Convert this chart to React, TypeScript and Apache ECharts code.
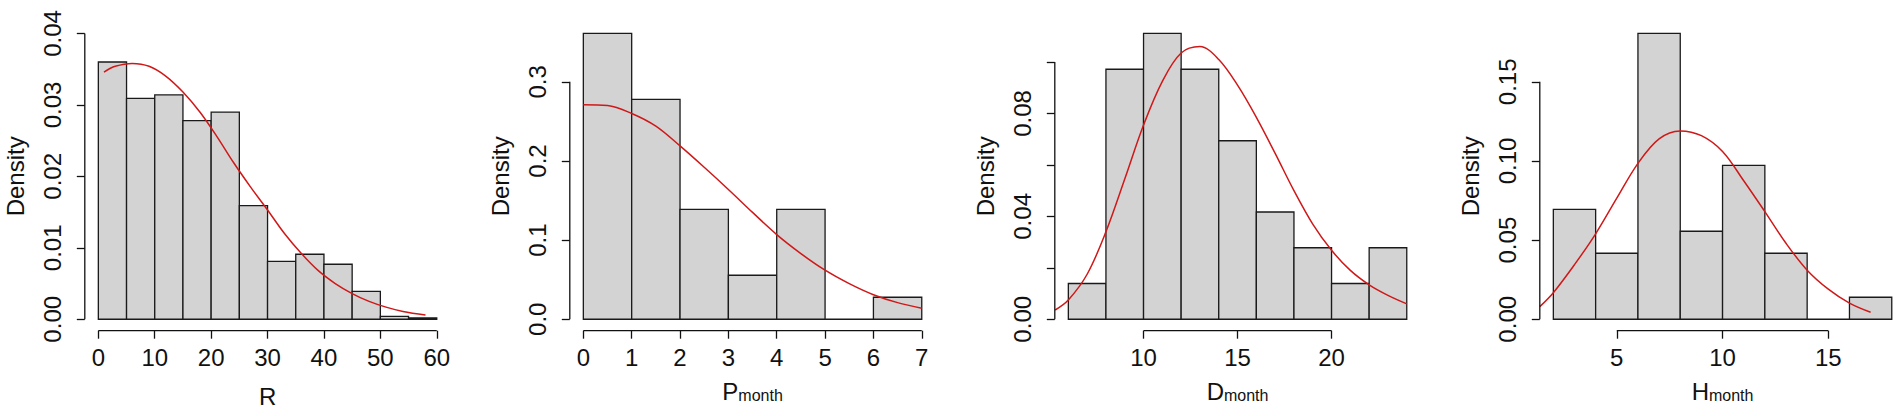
import React, { useEffect, useRef } from "react";
import * as echarts from "echarts";

// ---------- Data ----------
// Panel 1: R
const R_BREAKS = [0, 5, 10, 15, 20, 25, 30, 35, 40, 45, 50, 55, 60];
const R_DENSITY = [0.036, 0.0309, 0.0314, 0.0278, 0.029, 0.0159, 0.0081, 0.0091, 0.0077, 0.0039, 0.0004, 0.0002];
const R_CURVE_X = [1, 3, 6, 9, 12, 15, 18, 21, 24, 27, 30, 33, 36, 39, 42, 45, 48, 51, 54, 58];
const R_CURVE_Y = [0.0346, 0.0354, 0.0358, 0.0354, 0.034, 0.0318, 0.029, 0.0256, 0.0219, 0.0185, 0.0153, 0.012, 0.0092, 0.0068, 0.005, 0.0036, 0.0025, 0.0017, 0.0011, 0.0006];
const R_X_TICKS = [0, 10, 20, 30, 40, 50, 60];
const R_Y_TICKS = [0, 0.01, 0.02, 0.03, 0.04];
const R_Y_LABELS = [0, 0.01, 0.02, 0.03, 0.04];

// Panel 2: P_month
const P_BREAKS = [0, 1, 2, 3, 4, 5, 6, 7];
const P_DENSITY = [0.3611, 0.2778, 0.1389, 0.0556, 0.1389, 0, 0.0278];
const P_CURVE_X = [0, 0.5, 1, 1.5, 2, 2.5, 3, 3.5, 4, 4.5, 5, 5.5, 6, 6.5, 7];
const P_CURVE_Y = [0.271, 0.27, 0.26, 0.244, 0.219, 0.192, 0.164, 0.135, 0.107, 0.083, 0.062, 0.045, 0.031, 0.021, 0.014];
const P_X_TICKS = [0, 1, 2, 3, 4, 5, 6, 7];
const P_Y_TICKS = [0, 0.1, 0.2, 0.3];
const P_Y_LABELS = [0, 0.1, 0.2, 0.3];

// Panel 3: D_month
const D_BREAKS = [6, 8, 10, 12, 14, 16, 18, 20, 22, 24];
const D_DENSITY = [0.0139, 0.0972, 0.1111, 0.0972, 0.0694, 0.0417, 0.0278, 0.0139, 0.0278];
const D_CURVE_X = [5.3, 6, 7, 8, 9, 10, 11, 12, 13, 14, 15, 16, 17, 18, 19, 20, 21, 22, 23, 24];
const D_CURVE_Y = [0.0036, 0.0075, 0.0175, 0.034, 0.0545, 0.0755, 0.0925, 0.1035, 0.106, 0.101, 0.091, 0.0785, 0.0645, 0.05, 0.037, 0.0268, 0.019, 0.0134, 0.0093, 0.006];
const D_X_TICKS = [10, 15, 20];
const D_Y_TICKS = [0, 0.02, 0.04, 0.06, 0.08, 0.1];
const D_Y_LABELS = [0, 0.04, 0.08];

// Panel 4: H_month
const H_BREAKS = [2, 4, 6, 8, 10, 12, 14, 16, 18];
const H_DENSITY = [0.0694, 0.0417, 0.1806, 0.0556, 0.0972, 0.0417, 0, 0.0139];
const H_CURVE_X = [1.36, 2, 3, 4, 5, 6, 7, 8, 9, 10, 11, 12, 13, 14, 15, 16, 17];
const H_CURVE_Y = [0.008, 0.0168, 0.0345, 0.054, 0.0765, 0.0985, 0.114, 0.119, 0.116, 0.106, 0.0875, 0.068, 0.048, 0.031, 0.019, 0.0102, 0.0044];
const H_X_TICKS = [5, 10, 15];
const H_Y_TICKS = [0, 0.05, 0.1, 0.15];
const H_Y_LABELS = [0, 0.05, 0.1, 0.15];

// ---------- Layout / style ----------
const FONT = "'Liberation Sans', Arial, Helvetica, sans-serif";
const INK = "#111111";
const BAR_FILL = "#d3d3d3";
const CURVE_COLOR = "#d01818";
const GRID_TOP = 22;
const GRID_HEIGHT = 308.7;
const GRID_WIDTH = 365.5;
const GRID_LEFTS = [84.8, 569.8, 1054.8, 1539.8];

type Panel = {
  breaks: number[];
  density: number[];
  cx: number[];
  cy: number[];
  xRange: [number, number];
  yRange: [number, number];
  xTicks: number[];
  yTicks: number[];
  yLabels: number[];
  yDigits: number;
  main: string;
  sub: string;
};

const PANELS: Panel[] = [
  { breaks: R_BREAKS, density: R_DENSITY, cx: R_CURVE_X, cy: R_CURVE_Y, xRange: [-2.4, 62.4], yRange: [-0.0016, 0.0416], xTicks: R_X_TICKS, yTicks: R_Y_TICKS, yLabels: R_Y_LABELS, yDigits: 2, main: "R", sub: "" },
  { breaks: P_BREAKS, density: P_DENSITY, cx: P_CURVE_X, cy: P_CURVE_Y, xRange: [-0.28, 7.28], yRange: [-0.01444, 0.37555], xTicks: P_X_TICKS, yTicks: P_Y_TICKS, yLabels: P_Y_LABELS, yDigits: 1, main: "P", sub: "month" },
  { breaks: D_BREAKS, density: D_DENSITY, cx: D_CURVE_X, cy: D_CURVE_Y, xRange: [5.28, 24.72], yRange: [-0.004444, 0.11556], xTicks: D_X_TICKS, yTicks: D_Y_TICKS, yLabels: D_Y_LABELS, yDigits: 2, main: "D", sub: "month" },
  { breaks: H_BREAKS, density: H_DENSITY, cx: H_CURVE_X, cy: H_CURVE_Y, xRange: [1.36, 18.64], yRange: [-0.007222, 0.18778], xTicks: H_X_TICKS, yTicks: H_Y_TICKS, yLabels: H_Y_LABELS, yDigits: 2, main: "H", sub: "month" },
];

function buildOption() {
  const grid: any[] = [];
  const xAxis: any[] = [];
  const yAxis: any[] = [];
  const series: any[] = [];
  const graphic: any[] = [];

  PANELS.forEach((p, i) => {
    const left = GRID_LEFTS[i];
    grid.push({
      left,
      top: GRID_TOP,
      width: GRID_WIDTH,
      height: GRID_HEIGHT,
      containLabel: false,
      outerBoundsMode: "none",
    });

    xAxis.push({
      type: "value",
      gridIndex: i,
      min: p.xRange[0],
      max: p.xRange[1],
      axisLine: { show: false, onZero: false },
      splitLine: { show: false },
      axisTick: { show: true, length: 8, customValues: p.xTicks, lineStyle: { color: INK, width: 1.3 } },
      axisLabel: {
        customValues: p.xTicks,
        fontSize: 24,
        fontFamily: FONT,
        color: INK,
        margin: 15,
        formatter: (v: number) => String(Math.round(v * 1000) / 1000),
      },
    });

    yAxis.push({
      type: "value",
      gridIndex: i,
      min: p.yRange[0],
      max: p.yRange[1],
      axisLine: { show: false, onZero: false },
      splitLine: { show: false },
      axisTick: { show: true, length: 8, customValues: p.yTicks, lineStyle: { color: INK, width: 1.3 } },
      axisLabel: {
        customValues: p.yLabels,
        rotate: 90,
        fontSize: 24,
        fontFamily: FONT,
        color: INK,
        margin: 20,
        formatter: (v: number) => v.toFixed(p.yDigits),
      },
    });

    const bars = p.density.map((d, k) => [p.breaks[k], p.breaks[k + 1], d]);
    series.push({
      type: "custom",
      xAxisIndex: i,
      yAxisIndex: i,
      data: bars,
      encode: { x: [0, 1], y: 2 },
      silent: true,
      z: 2,
      renderItem: (_params: any, api: any) => {
        const p0 = api.coord([api.value(0), api.value(2)]);
        const p1 = api.coord([api.value(1), 0]);
        return {
          type: "rect",
          shape: { x: p0[0], y: p0[1], width: p1[0] - p0[0], height: p1[1] - p0[1] },
          style: { fill: BAR_FILL, stroke: "#1a1a1a", lineWidth: 1.3 },
        };
      },
    });

    series.push({
      type: "line",
      xAxisIndex: i,
      yAxisIndex: i,
      data: p.cx.map((x, k) => [x, p.cy[k]]),
      smooth: 0.35,
      symbol: "none",
      silent: true,
      z: 4,
      lineStyle: { color: CURVE_COLOR, width: 1.5 },
    });

    // axis lines spanning first to last tick (R style)
    series.push({
      type: "line",
      xAxisIndex: i,
      yAxisIndex: i,
      data: [
        [p.xTicks[0], p.yRange[0]],
        [p.xTicks[p.xTicks.length - 1], p.yRange[0]],
      ],
      symbol: "none",
      clip: false,
      silent: true,
      z: 5,
      lineStyle: { color: INK, width: 1.3 },
    });
    series.push({
      type: "line",
      xAxisIndex: i,
      yAxisIndex: i,
      data: [
        [p.xRange[0], p.yTicks[0]],
        [p.xRange[0], p.yTicks[p.yTicks.length - 1]],
      ],
      symbol: "none",
      clip: false,
      silent: true,
      z: 5,
      lineStyle: { color: INK, width: 1.3 },
    });

    // axis titles
    graphic.push({
      type: "text",
      x: left - 69.2,
      y: GRID_TOP + GRID_HEIGHT / 2,
      rotation: Math.PI / 2,
      silent: true,
      style: {
        text: "Density",
        fontSize: 24,
        fontFamily: FONT,
        fill: INK,
        align: "center",
        verticalAlign: "middle",
      },
    });

    const cx = left + GRID_WIDTH / 2;
    if (p.sub) {
      graphic.push({
        type: "text",
        x: cx,
        y: 391.7,
        silent: true,
        style: {
          text: `{m|${p.main}}{s|${p.sub}}`,
          fontSize: 24,
          fontFamily: FONT,
          fill: INK,
          align: "center",
          verticalAlign: "middle",
          rich: {
            m: { fontSize: 24, fontFamily: FONT, fill: INK },
            s: { fontSize: 16, lineHeight: 10, verticalAlign: "bottom", fontFamily: FONT, fill: INK },
          },
        },
      });
    } else {
      graphic.push({
        type: "text",
        x: cx,
        y: 396.7,
        silent: true,
        style: {
          text: p.main,
          fontSize: 24,
          fontFamily: FONT,
          fill: INK,
          align: "center",
          verticalAlign: "middle",
        },
      });
    }
  });

  return {
    animation: false,
    backgroundColor: "#ffffff",
    textStyle: { fontFamily: FONT },
    grid,
    xAxis,
    yAxis,
    series,
    graphic,
  };
}

export default function App() {
  const ref = useRef<HTMLDivElement | null>(null);

  useEffect(() => {
    if (!ref.current) return;
    const chart = echarts.init(ref.current, undefined, { renderer: "svg" });
    chart.setOption(buildOption() as any);
    return () => {
      chart.dispose();
    };
  }, []);

  return (
    <div
      ref={ref}
      style={{ position: "fixed", left: 0, top: 0, width: 1902, height: 416, background: "#ffffff" }}
    />
  );
}
